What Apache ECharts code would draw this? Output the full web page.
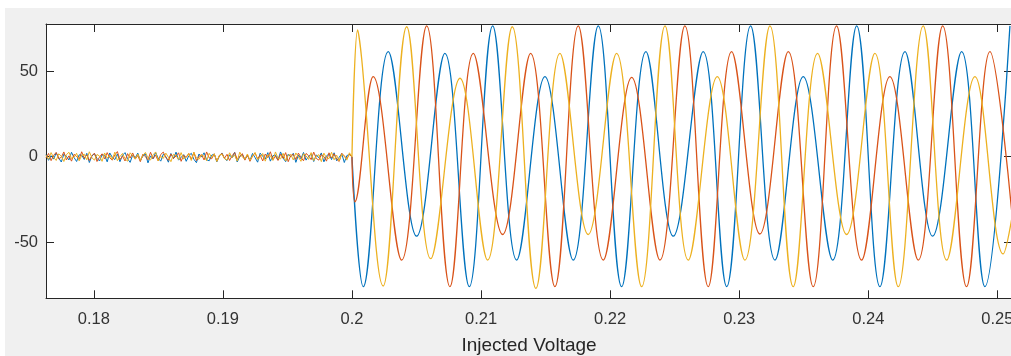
<!DOCTYPE html>
<html><head><meta charset="utf-8">
<script src="https://cdn.jsdelivr.net/npm/echarts@6/dist/echarts.min.js"></script>
<style>
html,body{margin:0;padding:0;background:#fff;overflow:hidden;width:1011px;height:356px;}
#c{position:absolute;left:5px;top:8px;width:1011px;height:348px;background:#f0f0f0;}
</style></head><body><div id="c"></div>
<script>
// ---- axis settings ----
const xLimits = [0.17630, 0.25113];
const yLimits = [-83.0, 77.8];
const xTickStep = 0.01;
const yTickStep = 50;
const xAxisName = 'Injected Voltage';
const switchTime = 0.2;
const noiseStart = 0.17630;

// ---- pre-switch noise (hand-read, about ±3) ----
const blueNoise = [1.2,-2.1,0.6,-1.4,2.3,-0.8,-3.1,1.5,0.2,-1.9,2.6,-0.5,-2.8,1.1,0.9,-1.6,2.0,-3.4,0.4,1.8,
-1.0,-2.5,1.3,0.7,-3.0,2.2,-0.3,-1.7,1.6,-2.9,0.8,2.4,-1.2,-3.3,1.0,-0.6,2.1,-2.2,0.3,1.7,
-3.6,0.5,-1.3,2.5,-0.9,-2.6,1.4,0.1,-3.2,1.9,-1.1,2.7,-2.0,-0.4,1.2,-2.7,0.6,2.0,-1.5,-3.5,
1.6,-0.2,2.3,-1.8,-2.4,0.9,1.5,-3.0,0.4,2.2,-1.0,-2.3,1.1,-0.7,2.6,-3.1,0.2,1.3,-1.6,0.8,
-2.2,1.9,-0.5,-3.2,2.1,0.3,-1.4,2.4,-2.6,0.6,1.0,-1.9,2.8,-0.8,-2.9,1.4,-0.1,2.0,-3.3,0.9,
-1.2,2.5,-2.0,0.2,1.7,-2.8,1.1,-0.6,2.2,-3.0,0.5,1.6,-1.7,2.3,-2.4,-0.3,1.8,-3.4,0.7,1.2];
const orangeNoise = [-0.7,1.9,-2.3,0.8,2.5,-1.2,-0.3,2.8,-1.9,0.5,-2.6,1.4,0.1,-1.5,2.9,-0.9,1.1,-2.2,0.6,2.1,
-2.8,-0.2,1.7,-1.3,2.4,-0.6,-2.0,1.0,3.0,-1.7,0.3,-2.5,1.8,-0.8,2.2,-1.4,0.7,-2.9,1.5,0.0,
-1.8,2.6,-1.1,0.9,-2.4,1.3,2.7,-0.5,-2.1,1.6,-1.0,0.4,2.3,-2.7,0.8,-0.4,1.9,-1.6,2.5,-2.3,
0.2,1.2,-1.9,2.8,-0.7,-1.2,1.7,-2.6,0.5,2.0,-0.9,1.4,-2.2,0.6,2.4,-1.5,-0.1,1.8,-2.0,1.1,
-2.7,0.4,2.2,-1.3,0.9,-2.5,1.6,-0.6,2.9,-1.8,0.3,-2.2,1.5,-0.9,2.4,-2.9,0.7,1.3,-1.6,2.1,
-0.4,-2.4,1.9,0.6,-1.7,2.7,-1.0,-2.0,1.2,0.1,-2.6,2.3,-0.8,1.7,-1.4,-2.8,2.0,0.5,-1.1,1.4];
const yellowNoise = [0.9,-1.5,2.4,-0.4,-2.2,1.7,0.3,-2.8,1.2,2.6,-1.1,-0.2,2.0,-2.4,0.7,1.5,-1.8,2.9,-0.6,-2.0,
1.3,0.4,-2.7,2.2,-0.9,1.0,-1.6,2.7,-2.3,0.1,1.9,-1.2,-2.6,2.3,0.5,-1.4,1.6,-2.1,0.8,2.5,
-0.7,-1.9,1.1,2.8,-2.5,0.2,-1.0,2.1,-0.3,-2.9,1.4,0.6,-1.7,2.4,-1.3,0.0,1.8,-2.2,2.6,-0.8,
-1.5,1.2,0.3,-2.4,2.0,-0.5,1.7,-2.8,0.9,1.5,-1.1,-2.0,2.3,-0.6,1.0,-2.6,2.7,-0.2,-1.4,1.6,
-2.1,0.4,2.5,-1.7,-0.3,1.9,-2.6,1.1,0.6,-2.2,2.8,-0.9,-1.3,2.0,-2.5,0.8,1.4,-1.9,2.2,-0.1,
-2.7,1.7,0.5,-1.6,2.4,-2.3,0.3,1.2,-2.9,2.1,-0.7,-1.1,2.6,-1.8,0.9,-2.4,1.5,0.2,-2.0,2.3];

// ---- post-switch waveforms: times (s) and values at peaks/troughs ----
const blueT = [0.20000,0.20088,0.20281,0.20501,0.20720,0.20909,0.21090,0.21276,0.21495,0.21714,0.21908,0.22089,0.22277,0.22489,0.22721,0.22903,0.23088,0.23277,0.23496,0.23724,0.23910,0.24090,0.24284,0.24498,0.24723,0.24903,0.25097];
const blueV = [0,-76.2,61.6,-46.6,60.6,-76.2,76.7,-60.6,46.9,-60.6,76.7,-76.2,61.6,-46.6,61.6,-76.2,76.7,-60.6,46.9,-60.6,76.7,-76.2,61.6,-46.6,61.6,-76.2,76.7];

const orangeT = [0.20000,0.20023,0.20165,0.20385,0.20579,0.20759,0.20940,0.21167,0.21384,0.21572,0.21753,0.21947,0.22167,0.22386,0.22579,0.22760,0.22941,0.23160,0.23380,0.23573,0.23754,0.23948,0.24167,0.24387,0.24576,0.24761,0.24942,0.25112];
const orangeV = [0,-26.4,46.9,-60.6,76.7,-76.2,60.6,-45.6,60.6,-76.2,76.7,-60.6,46.5,-60.6,76.7,-76.2,61.6,-45.3,61.6,-76.2,76.7,-60.6,46.9,-60.6,76.7,-76.2,61.6,-33];

const yellowT = [0.20000,0.20044,0.20075,0.20242,0.20424,0.20610,0.20837,0.21051,0.21242,0.21425,0.21611,0.21830,0.22050,0.22244,0.22425,0.22605,0.22830,0.23044,0.23238,0.23418,0.23607,0.23832,0.24051,0.24232,0.24425,0.24607,0.24826,0.25045,0.25112];
const yellowV = [0,74.3,57.7,-75.8,76.2,-59.8,46.0,-60.6,76.2,-77.2,60.6,-45.6,60.6,-76.2,76.7,-60.6,46.9,-60.6,76.7,-76.2,60.6,-45.6,60.6,-76.2,76.7,-60.6,46.9,-57,-36];

const colors = ['#0072BD', '#D95319', '#EDB120'];

function noisePairs(vals) {
  const step = (switchTime - noiseStart) / vals.length;
  const out = vals.map((v, i) => [noiseStart + i * step, v]);
  out.push([switchTime, 0]);
  return out;
}
function zipPairs(ts, vs) { return ts.map((t, i) => [t, vs[i]]); }

const FONT = 'Liberation Sans, Arial, Helvetica, sans-serif';
const AX = '#262626';

function lineSeries(data, color, smooth, w) {
  return {
    type: 'line', data: data, showSymbol: false, symbol: 'none',
    smooth: smooth, lineStyle: { color: color, width: w }, itemStyle: { color: color },
    animation: false, xAxisIndex: 0, yAxisIndex: 0, clip: true
  };
}

const xBase = {
  type: 'value', min: xLimits[0], max: xLimits[1],
  minInterval: xTickStep, maxInterval: xTickStep,
  axisLine: { show: true, onZero: false, lineStyle: { color: AX, width: 1 } },
  axisTick: { show: true, inside: true, length: 8, lineStyle: { color: AX, width: 1 } },
  splitLine: { show: false }
};
const yBase = {
  type: 'value', min: yLimits[0], max: yLimits[1],
  minInterval: yTickStep, maxInterval: yTickStep,
  axisLine: { show: true, onZero: false, lineStyle: { color: AX, width: 1 } },
  axisTick: { show: true, inside: true, length: 8, lineStyle: { color: AX, width: 1 } },
  splitLine: { show: false }
};

const chart = echarts.init(document.getElementById('c'), null, { renderer: 'canvas' });
chart.setOption({
  animation: false,
  backgroundColor: 'transparent',
  grid: { left: 41, top: 16, width: 966, height: 274.3, show: true, backgroundColor: '#ffffff', borderWidth: 0,
          containLabel: false, outerBoundsMode: 'none' },
  xAxis: [
    Object.assign({}, xBase, {
      position: 'bottom',
      name: xAxisName, nameLocation: 'middle', nameGap: 38,
      nameTextStyle: { fontSize: 19, color: AX, fontFamily: FONT },
      axisLabel: { show: true, margin: 13, fontSize: 16.5, color: '#333', fontFamily: FONT, showMinLabel: false, showMaxLabel: false }
    }),
    Object.assign({}, xBase, { position: 'top', axisLabel: { show: false } })
  ],
  yAxis: [
    Object.assign({}, yBase, {
      position: 'left',
      axisLabel: { show: true, margin: 8, fontSize: 16.5, color: '#333', fontFamily: FONT, showMinLabel: false, showMaxLabel: false }
    }),
    Object.assign({}, yBase, { position: 'right', axisLabel: { show: false } })
  ],
  series: [
    lineSeries(noisePairs(blueNoise), colors[0], false, 1),
    lineSeries(zipPairs(blueT, blueV), colors[0], 0.38, 1.3),
    lineSeries(noisePairs(orangeNoise), colors[1], false, 1),
    lineSeries(zipPairs(orangeT, orangeV), colors[1], 0.38, 1.3),
    lineSeries(noisePairs(yellowNoise), colors[2], false, 1),
    lineSeries(zipPairs(yellowT, yellowV), colors[2], 0.38, 1.3)
  ]
});
</script></body></html>
